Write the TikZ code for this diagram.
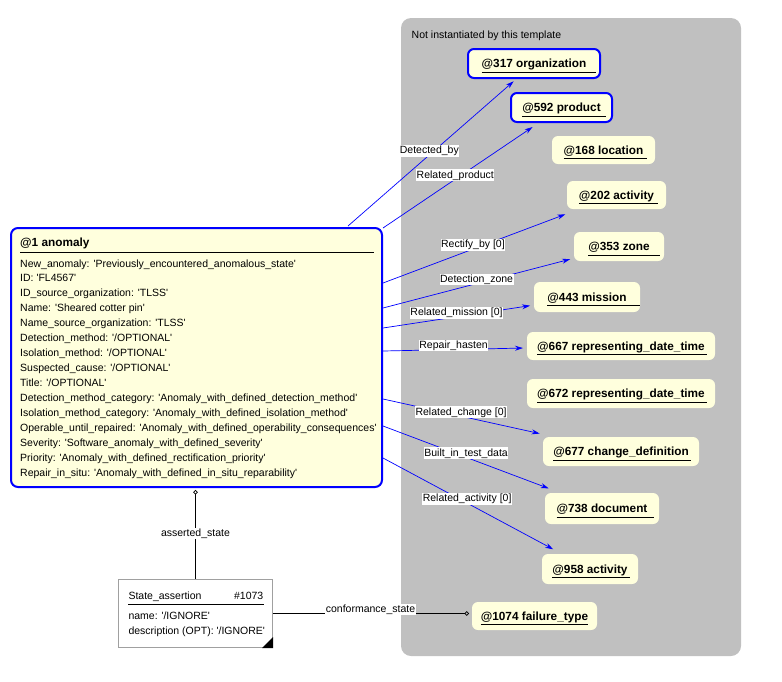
\documentclass[tikz,border=0pt]{standalone}
\usepackage{fontspec}
\setmainfont{Liberation Sans}
\usetikzlibrary{arrows.meta}
\definecolor{yel}{HTML}{FFFFDD}
\definecolor{panel}{HTML}{C0C0C0}
\definecolor{dblue}{HTML}{0000FF}
\definecolor{sabord}{HTML}{A0A0A0}
\newcommand\q{\textquotesingle}
\newsavebox\ulbox
\newcommand\ulx[2]{\sbox\ulbox{#1}\rlap{\smash{\rule[-5.1pt]{\dimexpr\wd\ulbox+#2pt\relax}{1pt}}}\usebox\ulbox}
\begin{document}
\begin{tikzpicture}[x=1pt,y=-1pt,
  txt/.style={font=\fontsize{10.5}{15}\selectfont, inner sep=0pt, anchor=base west},
  lbl/.style={font=\fontsize{10.5}{12}\selectfont, fill=white, inner sep=0.6pt, text height=8pt, text depth=2.4pt},
  blbl/.style={lbl, yshift=4pt},
  obj/.style={fill=yel, rounded corners=6pt, inner sep=0pt, outer sep=0pt, text height=8.45pt, text depth=0pt,
    font=\bfseries\fontsize{11.8}{14}\selectfont},
  objb/.style={obj, draw=dblue, line width=2pt},
  conn/.style={draw=dblue, line width=0.7pt, -{Stealth[length=8pt,width=5pt]}},
  assoc/.style={draw=black, line width=0.7pt, -{Circle[open,length=4.5pt,width=4.5pt]}}
]
\useasboundingbox (0,0) rectangle (782,681);

% grey panel
\fill[panel, rounded corners=10pt] (401,18) rectangle (741,656);
\node[txt] (ptitle) at (411.5,38.5) {Not instantiated by this template};

% anomaly box
\node[draw=dblue, line width=2pt, fill=yel, rounded corners=7pt, minimum width=371pt, minimum height=259pt,
  inner sep=0pt, outer sep=1pt] (anom) at (196.5,357.5) {};
\node[txt, font=\bfseries\fontsize{11.8}{14}\selectfont] (atitle) at (20,246.5) {@1 anomaly};
\draw[line width=1pt] (atitle.base west) ++(0,5.6) coordinate (r1) -- ++(354,0) coordinate (r2);
\foreach \t [count=\i from 0] in {
  {New\_anomaly: \q Previously\_encountered\_anomalous\_state\q},
  {ID: \q FL4567\q},
  {ID\_source\_organization: \q TLSS\q},
  {Name: \q Sheared cotter pin\q},
  {Name\_source\_organization: \q TLSS\q},
  {Detection\_method: \q/OPTIONAL\q},
  {Isolation\_method: \q/OPTIONAL\q},
  {Suspected\_cause: \q/OPTIONAL\q},
  {Title: \q/OPTIONAL\q},
  {Detection\_method\_category: \q Anomaly\_with\_defined\_detection\_method\q},
  {Isolation\_method\_category: \q Anomaly\_with\_defined\_isolation\_method\q},
  {Operable\_until\_repaired: \q Anomaly\_with\_defined\_operability\_consequences\q},
  {Severity: \q Software\_anomaly\_with\_defined\_severity\q},
  {Priority: \q Anomaly\_with\_defined\_rectification\_priority\q},
  {Repair\_in\_situ: \q Anomaly\_with\_defined\_in\_situ\_reparability\q}}
  \node[txt] (attr\i) at (20,{267+14.93*\i}) {\t};

% target objects
\node[objb, minimum width=132pt, minimum height=29pt] (n317) at (534,63.5) {\ulx{@317 organization}{10}};
\node[objb, minimum width=101pt, minimum height=29pt] (n592) at (561.5,107.5) {\ulx{@592 product}{5}};
\node[obj, minimum width=103pt, minimum height=28pt] (n168) at (603.5,150) {\ulx{@168 location}{4}};
\node[obj, minimum width=99pt, minimum height=28pt] (n202) at (616.5,195) {\ulx{@202 activity}{4}};
\node[obj, minimum width=90pt, minimum height=29pt] (n353) at (619,246.5) {\ulx{@353 zone}{10}};
\node[obj, minimum width=106pt, minimum height=30pt] (n443) at (587,297) {\ulx{@443 mission}{13}};
\node[obj, minimum width=188pt, minimum height=28pt] (n667) at (621,346) {\ulx{@667 representing\_date\_time}{2}};
\node[obj, minimum width=188pt, minimum height=29pt] (n672) at (621,393.5) {\ulx{@672 representing\_date\_time}{2}};
\node[obj, minimum width=156pt, minimum height=29pt] (n677) at (621,451.5) {\ulx{@677 change\_definition}{2}};
\node[obj, minimum width=114pt, minimum height=31pt] (n738) at (602,508.5) {\ulx{@738 document}{7}};
\node[obj, minimum width=96pt, minimum height=30pt] (n958) at (590,569) {\ulx{@958 activity}{2}};
\node[obj, minimum width=125pt, minimum height=28pt] (n1074) at (534.5,616) {\ulx{@1074 failure\_type}{0}};

% State_assertion box
\node[draw=sabord, line width=1pt, fill=white, minimum width=154pt, minimum height=68pt, inner sep=0pt] (sa) at (195.5,613.5) {};
\node[txt] (satitle) at (128.3,599.3) {State\_assertion};
\node[txt, anchor=base east] (said) at (263.5,599.3) {\#1073};
\draw[line width=1pt] (128.3,604.5) -- (263.5,604.5);
\node[txt] (saname) at (128.3,619.3) {name: \q/IGNORE\q};
\node[txt] (sadesc) at (128.3,634.3) {description (OPT): \q/IGNORE\q};
\fill[black] (sa.south east) ++(-11,0) -- (sa.south east) -- ++(0,-11) -- cycle;

% connectors
\coordinate (s1) at (348,226);
\coordinate (s2) at (383,228);
\coordinate (s3) at (383,283);
\coordinate (s4) at (383,308);
\coordinate (s5) at (383,328);
\coordinate (s6) at (383,351);
\coordinate (s7) at (383,399);
\coordinate (s8) at (383,426);
\coordinate (s9) at (383,458);

\draw[conn, shorten >=5pt] (s1) -- node[blbl, pos=0.48] {Detected\_by} (n317);
\draw[conn, shorten >=9pt] (s2) -- node[blbl, pos=0.46] {Related\_product} (n592);
\draw[conn, shorten >=15pt] (s3) -- node[blbl, pos=0.458] {Rectify\_by [0]} (n202);
\draw[conn, shorten >=4pt] (s4) -- node[blbl, pos=0.49] {Detection\_zone} (n353);
\draw[conn, shorten >=4pt] (s5) -- node[blbl, pos=0.487] {Related\_mission [0]} (n443);
\draw[conn, shorten >=4pt] (s6) -- node[blbl, pos=0.49] {Repair\_hasten} (n667);
\draw[conn, shorten >=16pt] (s7) -- node[blbl, pos=0.453] {Related\_change [0]} (n677);
\draw[conn, shorten >=13pt] (s8) -- node[blbl, pos=0.467] {Built\_in\_test\_data} (n738);
\draw[conn, shorten >=10pt] (s9) -- node[blbl, pos=0.47] {Related\_activity [0]} (n958);

\draw[assoc, shorten >=2pt] (sa.north) -- node[lbl, pos=0.5] {asserted\_state} (sa.north |- anom.south);
\draw[assoc, shorten >=3pt] (sa.east) -- node[blbl, pos=0.49] {conformance\_state} (sa.east -| n1074.west);
\end{tikzpicture}
\end{document}
